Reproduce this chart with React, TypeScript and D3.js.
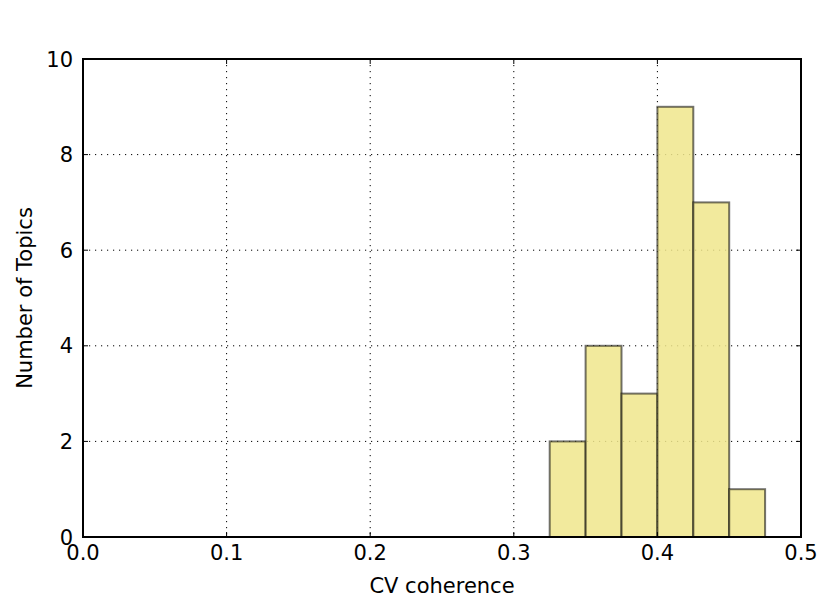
import React from "react";
import * as d3 from "d3";

const binEdges = [0.325, 0.35, 0.375, 0.4, 0.425, 0.45, 0.475];
const counts = [2, 4, 3, 9, 7, 1];
const xTicks = [0.0, 0.1, 0.2, 0.3, 0.4, 0.5];
const yTicks = [0, 2, 4, 6, 8, 10];

const W = 830;
const H = 615;
const m = { left: 83, top: 59, right: 801, bottom: 537 };

export default function App() {
  const x = d3.scaleLinear().domain([0, 0.5]).range([m.left, m.right]);
  const y = d3.scaleLinear().domain([0, 10]).range([m.bottom, m.top]);
  const font = "DejaVu Sans, sans-serif";
  const fs = 21;
  return (
    <svg width={W} height={H} style={{ position: "absolute", left: 0, top: 0, background: "#fff" }}>
      <rect x={0} y={0} width={W} height={H} fill="#fff" />
      {/* grid */}
      {xTicks.slice(1, -1).map((t) => (
        <line key={"gx" + t} x1={x(t)} x2={x(t)} y1={m.top} y2={m.bottom} stroke="#000" strokeWidth={1} strokeDasharray="1.2,4.8" />
      ))}
      {yTicks.slice(1, -1).map((t) => (
        <line key={"gy" + t} x1={m.left} x2={m.right} y1={y(t)} y2={y(t)} stroke="#000" strokeWidth={1} strokeDasharray="1.2,4.8" />
      ))}
      {/* bars */}
      {counts.map((c, i) => (
        <rect
          key={"b" + i}
          x={x(binEdges[i])}
          y={y(c)}
          width={x(binEdges[i + 1]) - x(binEdges[i])}
          height={y(0) - y(c)}
          fill="#f0e68c"
          fillOpacity={0.85}
          stroke="#000"
          strokeOpacity={0.55}
          strokeWidth={2}
        />
      ))}
      {/* ticks inward */}
      {xTicks.map((t) => (
        <g key={"tx" + t}>
          <line x1={x(t)} x2={x(t)} y1={m.bottom} y2={m.bottom - 5} stroke="#000" strokeWidth={1} />
          <line x1={x(t)} x2={x(t)} y1={m.top} y2={m.top + 5} stroke="#000" strokeWidth={1} />
          <text x={x(t)} y={560} textAnchor="middle" fontFamily={font} fontSize={fs}>
            {t.toFixed(1)}
          </text>
        </g>
      ))}
      {yTicks.map((t) => (
        <g key={"ty" + t}>
          <line x1={m.left} x2={m.left + 5} y1={y(t)} y2={y(t)} stroke="#000" strokeWidth={1} />
          <line x1={m.right} x2={m.right - 5} y1={y(t)} y2={y(t)} stroke="#000" strokeWidth={1} />
          <text x={73} y={y(t) + 7.5} textAnchor="end" fontFamily={font} fontSize={fs}>
            {t}
          </text>
        </g>
      ))}
      {/* frame */}
      <rect x={m.left} y={m.top} width={m.right - m.left} height={m.bottom - m.top} fill="none" stroke="#000" strokeWidth={2} />
      <text x={(m.left + m.right) / 2} y={593} textAnchor="middle" fontFamily={font} fontSize={fs}>
        CV coherence
      </text>
      <text
        transform={`translate(32,${(m.top + m.bottom) / 2}) rotate(-90)`}
        textAnchor="middle"
        fontFamily={font}
        fontSize={fs}
      >
        Number of Topics
      </text>
    </svg>
  );
}
